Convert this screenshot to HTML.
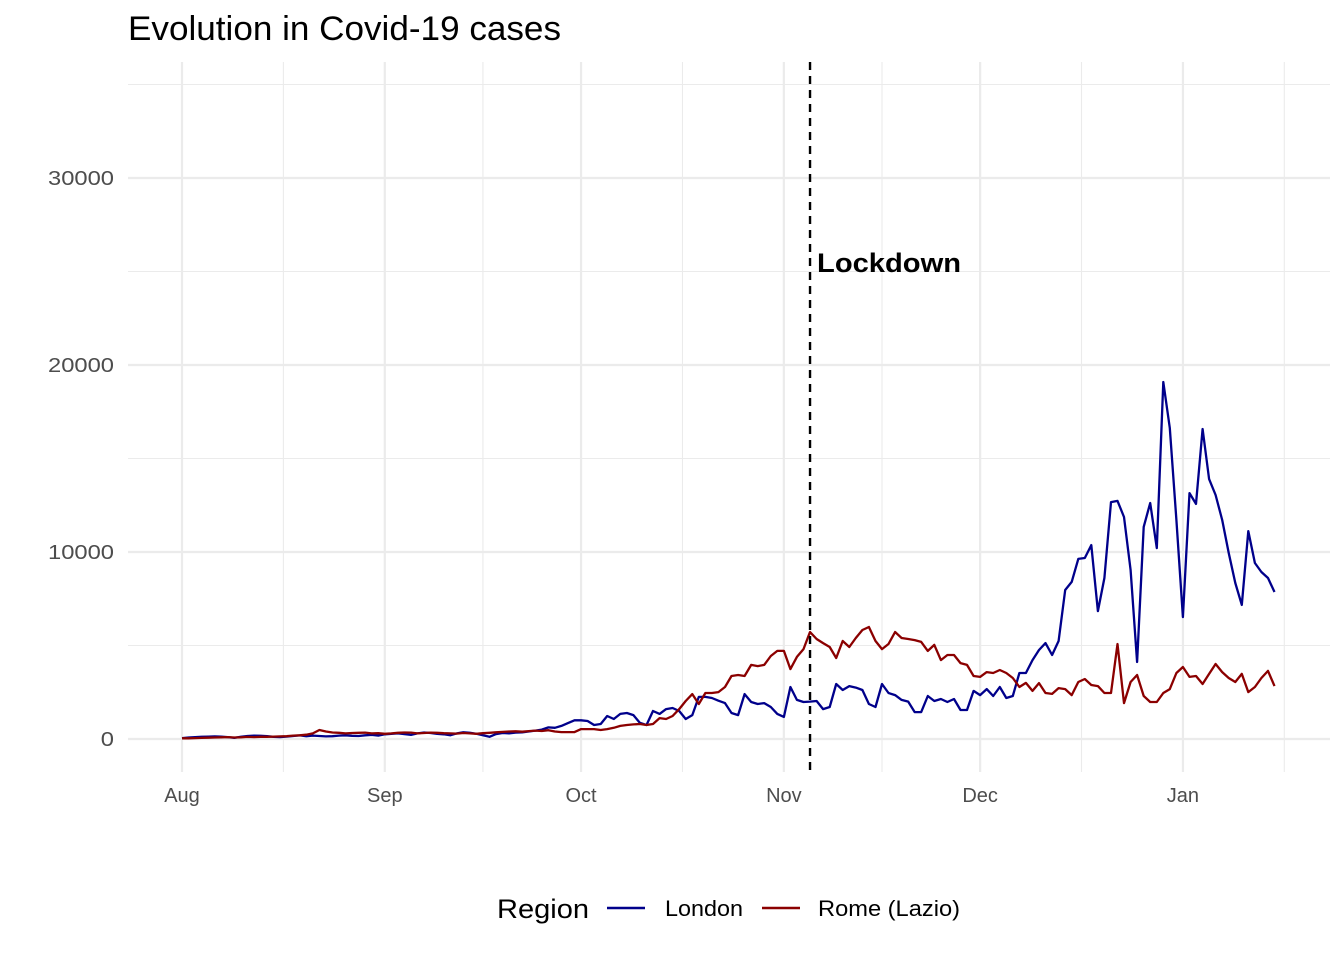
<!DOCTYPE html>
<html><head><meta charset="utf-8"><style>
html,body{margin:0;padding:0;background:#fff;}
svg{display:block;font-family:"Liberation Sans",Arial,sans-serif;}
</style></head><body>
<svg id="chart" width="1344" height="960">
<text x="128" y="40" font-size="34" textLength="433" lengthAdjust="spacingAndGlyphs" fill="#000">Evolution in Covid-19 cases</text>
<g id="grid"></g>
<g id="axes"></g>
<g id="series"></g>
<g id="annot"></g>
<g>
<text x="497" y="918" font-size="27" textLength="92" lengthAdjust="spacingAndGlyphs" fill="#000">Region</text>
<line x1="607" y1="908" x2="645" y2="908" stroke="#00008B" stroke-width="2.4"/>
<text x="665" y="916" font-size="22" textLength="78" lengthAdjust="spacingAndGlyphs" fill="#000">London</text>
<line x1="762" y1="908" x2="800" y2="908" stroke="#8B0000" stroke-width="2.4"/>
<text x="818" y="916" font-size="22" textLength="142" lengthAdjust="spacingAndGlyphs" fill="#000">Rome (Lazio)</text>
</g>
</svg>
<script>
const startDate = "2020-08-01";
const monthLabels = ["Aug","Sep","Oct","Nov","Dec","Jan"];
const monthDays = [0,31,61,92,122,153];
const yTicks = [0,10000,20000,30000];
const lockdownDay = 96;
const lockdownLabel = "Lockdown";
const london = [50,80,100,120,130,140,130,100,60,120,160,180,170,150,120,100,130,160,190,150,180,160,140,150,180,200,170,160,200,220,180,250,280,300,260,220,300,350,320,280,250,200,300,360,330,280,200,120,260,320,300,340,360,400,450,500,620,600,
700,850,1000,1000,960,750,800,1230,1070,1340,1390,1280,860,750,1500,1340,1600,1660,1500,1070,1280,2250,2250,2190,2050,1920,1390,1280,2400,1980,1870,1920,1710,1340,1180,2780,2090,1980,2000,2030,1600,1710,2940,2620,2830,2750,2620,1870,1710,2940,2460,2350,2090,2000,1440,1440,2300,2030,2140,1980,2140,1550,1550,2570,2350,
2670,2300,2780,2190,2300,3530,3530,4220,4760,5130,4490,5240,7970,8400,9630,9680,10370,6840,8610,12670,12730,11870,9040,4120,11340,12620,10210,19090,16630,11710,6520,13150,12570,16580,13900,13050,11710,9950,8340,7170,11120,9410,8930,8610,7860];
const rome = [40,40,50,60,70,80,90,100,80,90,110,100,120,120,130,140,150,180,200,230,300,480,400,350,330,300,320,330,340,300,310,280,300,330,350,340,300,320,340,330,310,300,290,320,300,280,310,330,360,380,400,410,390,420,450,430,470,400,
370,370,370,530,530,530,480,530,600,700,750,780,800,750,800,1120,1070,1230,1600,2030,2400,1870,2460,2460,2510,2780,3370,3420,3370,3960,3900,3960,4440,4710,4710,3740,4390,4810,5720,5350,5130,4920,4330,5240,4920,5400,5830,5990,5240,4810,5080,5720,5400,5350,5290,5190,4710,5030,4220,4490,4490,4060,3960,3370,3320,
3580,3530,3690,3530,3260,2780,3000,2570,2990,2460,2410,2720,2670,2350,3050,3210,2890,2830,2460,2460,5080,1920,3050,3420,2300,1980,1980,2460,2670,3530,3850,3320,3370,2940,3480,4010,3580,3260,3050,3480,2510,2780,3260,3640,2830];

const NS="http://www.w3.org/2000/svg";
const xS = d => 182 + d*6.542;
const yS = v => 739 - v*0.01870;
const PL=128, PR=1330, PT=62, PB=772;
function mk(tag, attrs, parent){const e=document.createElementNS(NS,tag);for(const k in attrs)e.setAttribute(k,attrs[k]);parent.appendChild(e);return e;}
const grid=document.getElementById('grid'), axes=document.getElementById('axes'), series=document.getElementById('series'), annot=document.getElementById('annot');
for(let v=5000; v<=35000; v+=10000){
  const l=mk('line',{x1:PL,x2:PR,y1:yS(v),y2:yS(v),stroke:'#ebebeb','stroke-width':1.1},grid);
  
  
}
for(let i=0;i<monthDays.length;i++){
  const a=monthDays[i], b=i+1<monthDays.length?monthDays[i+1]:184;
  const l=mk('line',{x1:xS((a+b)/2),x2:xS((a+b)/2),y1:PT,y2:PB,stroke:'#ebebeb','stroke-width':1.1},grid);
  
  
}
yTicks.forEach(v=>{
  const l=mk('line',{x1:PL,x2:PR,y1:yS(v),y2:yS(v),stroke:'#ebebeb','stroke-width':2.2},grid);
  
  
  const s=String(v);
  const t=mk('text',{x:114,y:yS(v)+7,'text-anchor':'end','font-size':20,fill:'#4d4d4d',textLength:13.2*s.length,lengthAdjust:'spacingAndGlyphs'},axes);
  t.textContent=s;
  
  
});
monthDays.forEach((d,i)=>{
  const l=mk('line',{x1:xS(d),x2:xS(d),y1:PT,y2:PB,stroke:'#ebebeb','stroke-width':2.2},grid);
  
  
  const t=mk('text',{x:xS(d),y:802,'text-anchor':'middle','font-size':20,fill:'#4d4d4d'},axes);
  t.textContent=monthLabels[i];
  
  
});
function drawSeries(vals,color,name){
  const p=mk('polyline',{points:vals.map((v,i)=>xS(i).toFixed(1)+','+yS(v).toFixed(1)).join(' '),fill:'none',stroke:color,'stroke-width':2.3,'stroke-linejoin':'round'},series);
  
  
}
drawSeries(london,'#00008B','london-line');
drawSeries(rome,'#8B0000','rome-line');
const ll=mk('line',{x1:xS(lockdownDay),x2:xS(lockdownDay),y1:PT,y2:PB,stroke:'#000','stroke-width':2.4,'stroke-dasharray':'8,6'},annot);


const lt=mk('text',{x:xS(lockdownDay)+7,y:272,'font-size':27,'font-weight':'bold',fill:'#000',textLength:144,lengthAdjust:'spacingAndGlyphs'},annot);
lt.textContent=lockdownLabel;


</script>
</body></html>
